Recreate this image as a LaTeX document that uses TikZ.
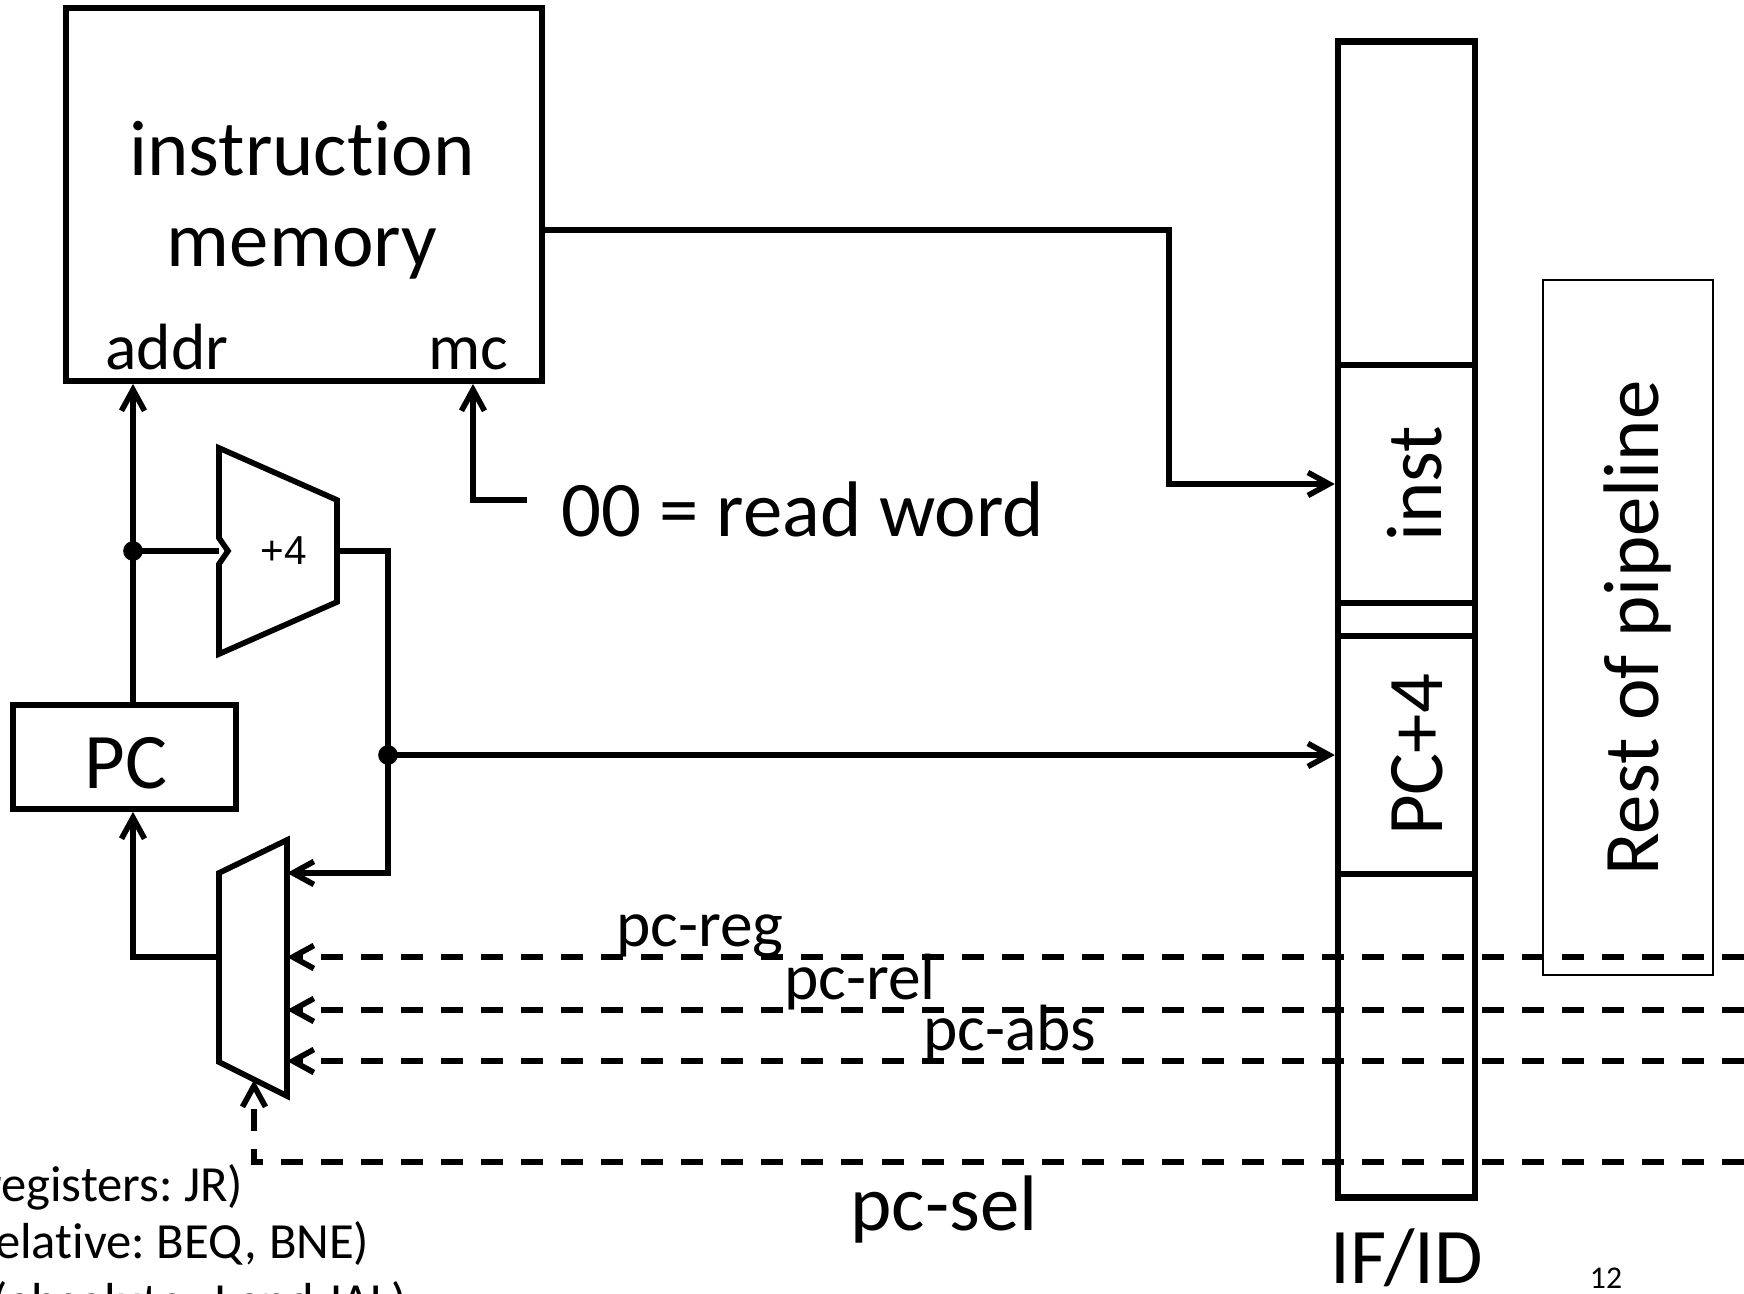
\documentclass[tikz,border=0pt]{standalone}
\usepackage{fontspec}
\setmainfont{Carlito}[Ligatures=NoCommon]
\newfontfamily\arialfont{Liberation Sans}
\usetikzlibrary{arrows.meta}
\frenchspacing

\begin{document}
\begin{tikzpicture}[x=0.01cm, y=-0.01cm,
    trait/.style={line width=1.6pt, line join=miter},
    fleche/.style={trait, -{Straight Barb[length=2.1mm,width=2.3mm]}},
    signal/.style={fleche, dash pattern=on 2.2mm off 1.8mm},
    boite/.style={draw, line width=1.6pt, rectangle, inner sep=0pt},
    texte/.style={inner sep=0pt, anchor=base},
    grand/.style={texte, font=\fontsize{22.4}{26}\selectfont},
    moyen/.style={texte, font=\fontsize{18.6}{22}\selectfont},
    petit/.style={texte, font=\fontsize{14.4}{17}\selectfont}]

  % Cadre de la page
  \useasboundingbox (0,0) rectangle (1744,1294);

  % Les blocs
  \node[boite, minimum width=4.76cm, minimum height=3.73cm] (mem) at (304,194.5) {};
  \node[boite, minimum width=2.23cm, minimum height=1.04cm] (pc) at (124.5,757) {};
  \node[boite, line width=1.8pt, minimum width=1.37cm, minimum height=11.55cm] (ifid) at (1406.5,619.5) {};
  \node[boite, minimum width=1.37cm, minimum height=2.38cm] (inst) at (1406.5,484) {};
  \node[boite, minimum width=1.37cm, minimum height=2.38cm] (pcq) at (1406.5,755) {};
  \node[boite, line width=0.6pt, minimum width=1.70cm, minimum height=6.95cm] (reste) at (1628,627.5) {};

  % Textes des blocs
  \node[grand] (memA) at (302,176) {instruction};
  \node[grand] (memB) at (302,267) {memory};
  \node[moyen] (addr) at (167,370) {addr};
  \node[moyen] (mc) at (468,370) {mc};
  \node[grand] (pctxt) at (126,788) {PC};
  \node[grand, rotate=90] (insttxt) at (1441,484) {inst};
  \node[grand, rotate=90] (pcqtxt) at (1442,755) {PC+4};
  \node[grand, rotate=90] (restetxt) at (1658,628) {Rest of pipeline};
  \node[grand] (lect) at (803,537) {00 = read word};

  % Additionneur +4
  \coordinate (addIn) at (219,551);
  \coordinate (addOut) at (337,551);
  \draw[trait] (219,448) -- (337,500) -- (337,602) -- (219,654) -- (219,564)
    -- (228,551) -- (219,538) -- cycle;
  \node[texte, font=\arialfont\fontsize{11.5}{14}\selectfont] (plus) at (283.5,565) {+4};

  % Multiplexeur
  \draw[trait] (219,873) -- (287,840) -- (287,1096) -- (219,1062) -- cycle;
  \coordinate (muxA) at (287,873);
  \coordinate (muxB) at (287,957);
  \coordinate (muxC) at (287,1010);
  \coordinate (muxD) at (287,1061);
  \coordinate (muxOut) at (219,957);
  \coordinate (muxSel) at (254,1080);

  % Points de jonction
  \coordinate (J) at (133,551);
  \coordinate (K) at (388,755);
  \coordinate (memOut) at (542,230);
  \coordinate (C1) at (1169,230);
  \coordinate (mcD) at (527,500);
  \coordinate (mcB) at (473,500);
  \coordinate (selC) at (254,1162);
  \coordinate (bord) at (1744,0);

  % Liaisons
  \draw[fleche] (pc.north -| J) -- (mem.south -| J);
  \draw[trait] (J) -- (addIn);
  \draw[fleche] (addOut) -| (K) |- (muxA);
  \draw[fleche] (K) -- (K -| ifid.west);
  \draw[fleche] (memOut) -- (C1) |- (ifid.west |- inst);
  \draw[fleche] (mcD) -- (mcB) -- (mem.south -| mcB);
  \draw[fleche] (muxOut) -| (pc.south -| J);
  \fill (J) circle (2.8pt);
  \fill (K) circle (2.8pt);

  % Signaux de commande en pointilles
  \foreach \e in {muxB, muxC, muxD}
    \draw[signal] (\e -| bord) -- (\e);
  \draw[signal] (selC -| bord) -- (selC) -- (muxSel);

  % Noms des signaux
  \node[moyen] (lreg) at (700,946) {pc-reg};
  \node[moyen] (lrel) at (860,999) {pc-rel};
  \node[moyen] (labs) at (1010,1050) {pc-abs};
  \node[grand] (lsel) at (944,1230) {pc-sel};
  \node[grand] (lifid) at (1407,1283) {IF/ID};
  \node[texte, font=\fontsize{9}{11}\selectfont] (num) at (1606,1288) {12};

  % Notes en bas a gauche
  \node[petit, anchor=base east] (n1) at (244,1201) {(from registers: JR)};
  \node[petit, anchor=base east] (n2) at (370,1258) {(PC-relative: BEQ, BNE)};
  \node[petit, anchor=base east] (n3) at (408,1318) {(absolute: J and JAL)};
\end{tikzpicture}
\end{document}
